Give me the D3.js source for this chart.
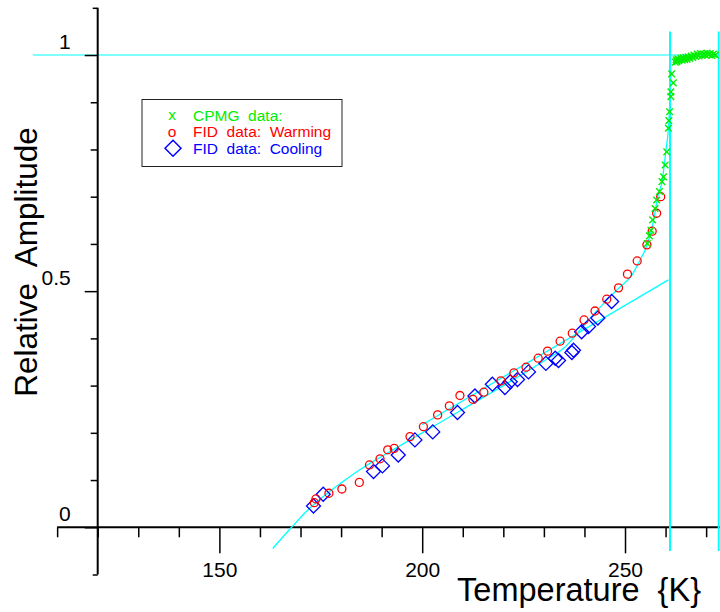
<!DOCTYPE html>
<html>
<head>
<meta charset="utf-8">
<script src="https://cdn.jsdelivr.net/npm/d3@7"></script>
<style>
  html, body { margin: 0; padding: 0; background: #fff; }
  svg { display: block; }
  text { font-family: "Liberation Sans", Arial, sans-serif; white-space: pre; }
</style>
</head>
<body>
<svg id="chart" width="720" height="612"></svg>
<script>
// ---- data ----
// CPMG amplitudes (green x)
const cpmgT = [255.5, 256.0, 256.4, 256.8, 257.4, 257.8, 258.5, 259.1, 259.5, 259.9, 260.3, 260.7, 260.8, 261.0, 261.3, 261.3, 261.5, 261.9,
  262.4, 262.6, 262.8, 263.0, 263.2, 263.5, 263.8, 264.1, 264.4, 264.7, 265.0, 265.3, 265.6, 266.0, 266.3, 266.7, 267.0, 267.4, 267.8,
  268.2, 268.6, 269.0, 269.4, 269.8, 270.2, 270.6, 271.0, 271.4, 271.8, 272.3];
const cpmgA = [0.601, 0.617, 0.629, 0.651, 0.675, 0.693, 0.711, 0.732, 0.742, 0.767, 0.795, 0.845, 0.861, 0.880, 0.912, 0.922, 0.960, 0.941,
  0.985, 0.990, 0.986, 0.992, 0.988, 0.990, 0.993, 0.989, 0.994, 0.990, 0.995, 0.991, 0.996, 0.993, 0.998, 0.995, 1.000, 0.997, 1.002,
  0.998, 1.003, 0.999, 1.002, 1.000, 1.004, 1.001, 1.003, 0.999, 1.002, 1.000];

// FID amplitudes while warming (red o)
const warmT = [173.4, 173.8, 177.0, 180.2, 184.5, 187.0, 189.6, 191.5, 193.1, 197.0, 200.3, 203.8, 206.7, 209.3, 212.5, 215.2, 219.4,
  222.6, 225.6, 228.6, 230.9, 234.0, 237.0, 239.9, 242.6, 245.5, 248.4, 250.6, 253.0, 255.4, 256.7, 257.8, 258.8];
const warmA = [0.052, 0.060, 0.072, 0.081, 0.095, 0.132, 0.145, 0.164, 0.167, 0.192, 0.213, 0.238, 0.257, 0.279, 0.271, 0.286, 0.310,
  0.327, 0.339, 0.358, 0.373, 0.394, 0.411, 0.439, 0.458, 0.483, 0.507, 0.536, 0.564, 0.598, 0.627, 0.665, 0.700];

// FID amplitudes while cooling (blue diamonds)
const coolT = [173.2, 175.6, 188.0, 190.2, 194.1, 198.2, 202.6, 208.7, 213.0, 217.3, 220.4, 221.7, 223.5, 226.2, 230.5, 232.8, 233.6,
  236.9, 237.3, 239.3, 241.0, 243.3, 246.7];
const coolA = [0.045, 0.070, 0.118, 0.130, 0.153, 0.185, 0.202, 0.243, 0.278, 0.303, 0.296, 0.308, 0.313, 0.329, 0.347, 0.358, 0.353,
  0.370, 0.375, 0.414, 0.425, 0.443, 0.478];

// fitted curve through the FID / CPMG data
const fitT = [163.15, 167.8, 172, 176, 180, 185, 190, 195, 200, 210, 220, 230, 235, 241, 245.5, 248.8, 251.7, 253.7, 255.3, 256.9,
  258.3, 259.05, 260.1, 260.85, 261.34];
const fitA = [-0.045, 0.0, 0.038, 0.068, 0.094, 0.124, 0.150, 0.175, 0.200, 0.250, 0.300, 0.352, 0.380, 0.439, 0.481, 0.509, 0.534,
  0.566, 0.594, 0.644, 0.708, 0.728, 0.799, 0.863, 0.968];

// linear extrapolation of the low-temperature trend
const lineT = [200, 260.7];
const lineA = [0.217, 0.524];

// reference lines
const transitionT = [261.1, 273.1];
const vLineA = [-0.05, 1.05];
const unityA = 1;
const unityFromT = 104;

// axes
const xDomain = [110, 280];
const yDomain = [-0.1, 1.1];
const xMajorTicks = [150, 200, 250];
const xMinorTicks = [110, 120, 130, 140, 160, 170, 180, 190, 210, 220, 230, 240, 260, 270];
const yMajorTicks = [0, 0.5, 1];
const yMinorTicks = [0.1, 0.2, 0.3, 0.4, 0.6, 0.7, 0.8, 0.9];
const yEndTicks = [-0.1, 1.1];
const xTitle = "Temperature  {K}";
const yTitle = "Relative  Amplitude";
const legendItems = ["CPMG  data:", "FID  data:  Warming", "FID  data:  Cooling"];

// ---- drawing ----
const GREEN = "#00ee00", RED = "#ff0000", BLUE = "#0000ff", CYAN = "#00ffff";
const svg = d3.select("#chart");

const x = d3.scaleLinear().domain(xDomain).range([57.14, 746.7]);
const y = d3.scaleLinear().domain(yDomain).range([574.5, 7.8]);
const x0 = x(120);   // the vertical axis sits at 120 K
const y0 = y(0);     // the horizontal axis sits at zero amplitude

// horizontal unity line
svg.append("line")
  .attr("x1", x(unityFromT)).attr("x2", 720)
  .attr("y1", y(unityA)).attr("y2", y(unityA))
  .attr("stroke", CYAN).attr("stroke-width", 1);

// x axis
function styleAxis(g) {
  g.select(".domain").remove();
  g.selectAll(".tick line").attr("stroke", "#000").attr("stroke-width", 1.5);
}
svg.append("line").attr("x1", x(xDomain[0])).attr("x2", x(xDomain[1]))
  .attr("y1", y0).attr("y2", y0).attr("stroke", "#000").attr("stroke-width", 2);
svg.append("g").attr("transform", `translate(0,${y0})`)
  .call(d3.axisBottom(x).tickValues(xMinorTicks).tickSize(10).tickFormat(""))
  .call(styleAxis);
svg.append("g").attr("transform", `translate(0,${y0})`)
  .call(d3.axisBottom(x).tickValues(xMajorTicks).tickSize(26).tickPadding(9).tickFormat(d3.format("d")))
  .call(styleAxis)
  .call(g => g.selectAll("text").attr("font-size", 21).attr("fill", "#000")
    .attr("font-family", "'Liberation Sans', Arial, sans-serif"));

// y axis
svg.append("line").attr("x1", x0).attr("x2", x0)
  .attr("y1", y(yDomain[0])).attr("y2", y(yDomain[1])).attr("stroke", "#000").attr("stroke-width", 2);
svg.append("g").attr("transform", `translate(${x0},0)`)
  .call(d3.axisLeft(y).tickValues(yMinorTicks).tickSize(7).tickFormat(""))
  .call(styleAxis);
svg.append("g").attr("transform", `translate(${x0},0)`)
  .call(d3.axisLeft(y).tickValues(yEndTicks).tickSize(5).tickFormat(""))
  .call(styleAxis);
svg.append("g").attr("transform", `translate(${x0},0)`)
  .call(d3.axisLeft(y).tickValues(yMajorTicks).tickSize(13).tickFormat(d => d3.format("")(d)))
  .call(styleAxis)
  .call(g => g.selectAll("text").attr("font-size", 21).attr("fill", "#000")
    .attr("font-family", "'Liberation Sans', Arial, sans-serif")
    .attr("x", -27).attr("dy", -7).attr("dominant-baseline", "auto").attr("text-anchor", "end"));

// axis titles
svg.append("text").attr("x", 701).attr("y", 601).attr("text-anchor", "end")
  .attr("font-size", 32.5).text(xTitle);
svg.append("text").attr("transform", "translate(37,262) rotate(-90)").attr("text-anchor", "middle")
  .attr("font-size", 31.5).text(yTitle);

// vertical reference lines at the transition
transitionT.forEach(t => {
  svg.append("line").attr("x1", x(t)).attr("x2", x(t))
    .attr("y1", y(vLineA[0])).attr("y2", y(vLineA[1]))
    .attr("stroke", CYAN).attr("stroke-width", 2);
});

// fitted curve and linear trend
const fitPts = fitT.map((t, i) => [t, fitA[i]]);
svg.append("path").datum(fitPts)
  .attr("d", d3.line().x(d => x(d[0])).y(d => y(d[1])).curve(d3.curveMonotoneX))
  .attr("fill", "none").attr("stroke", CYAN).attr("stroke-width", 1.3);
const linePts = lineT.map((t, i) => [t, lineA[i]]);
svg.append("path").datum(linePts)
  .attr("d", d3.line().x(d => x(d[0])).y(d => y(d[1])))
  .attr("fill", "none").attr("stroke", CYAN).attr("stroke-width", 1.3);

// markers
const diamond = s => `M0,${-s}L${s},0L0,${s}L${-s},0Z`;
const cross = s => `M${-s},${-s}L${s},${s}M${-s},${s}L${s},${-s}`;

svg.append("g").selectAll("path").data(coolT.map((t, i) => [t, coolA[i]])).join("path")
  .attr("transform", d => `translate(${x(d[0])},${y(d[1])})`)
  .attr("d", diamond(7)).attr("fill", "none").attr("stroke", BLUE).attr("stroke-width", 1.3);

svg.append("g").selectAll("circle").data(warmT.map((t, i) => [t, warmA[i]])).join("circle")
  .attr("cx", d => x(d[0])).attr("cy", d => y(d[1])).attr("r", 4)
  .attr("fill", "none").attr("stroke", RED).attr("stroke-width", 1.3);

svg.append("g").selectAll("path").data(cpmgT.map((t, i) => [t, cpmgA[i]])).join("path")
  .attr("transform", d => `translate(${x(d[0])},${y(d[1])})`)
  .attr("d", cross(3.3)).attr("fill", "none").attr("stroke", GREEN).attr("stroke-width", 1.4);

// legend
const lg = svg.append("g");
lg.append("rect").attr("x", 142).attr("y", 99.5).attr("width", 200).attr("height", 67)
  .attr("fill", "#fff").attr("stroke", "#222").attr("stroke-width", 1);
const rowsY = [115, 131.7, 148.3];
const colors = [GREEN, RED, BLUE];
lg.append("text").attr("x", 172).attr("y", rowsY[0] + 5).attr("text-anchor", "middle")
  .attr("font-size", 15.5).attr("fill", GREEN).text("x");
lg.append("text").attr("x", 172).attr("y", rowsY[1] + 5).attr("text-anchor", "middle")
  .attr("font-size", 15.5).attr("fill", RED).text("o");
lg.append("path").attr("transform", `translate(173,${rowsY[2]})`).attr("d", diamond(8))
  .attr("fill", "none").attr("stroke", BLUE).attr("stroke-width", 1.5);
legendItems.forEach((s, i) => {
  lg.append("text").attr("x", 193).attr("y", rowsY[i] + 5.5)
    .attr("font-size", 15.5).attr("fill", colors[i]).text(s);
});
</script>
</body>
</html>
